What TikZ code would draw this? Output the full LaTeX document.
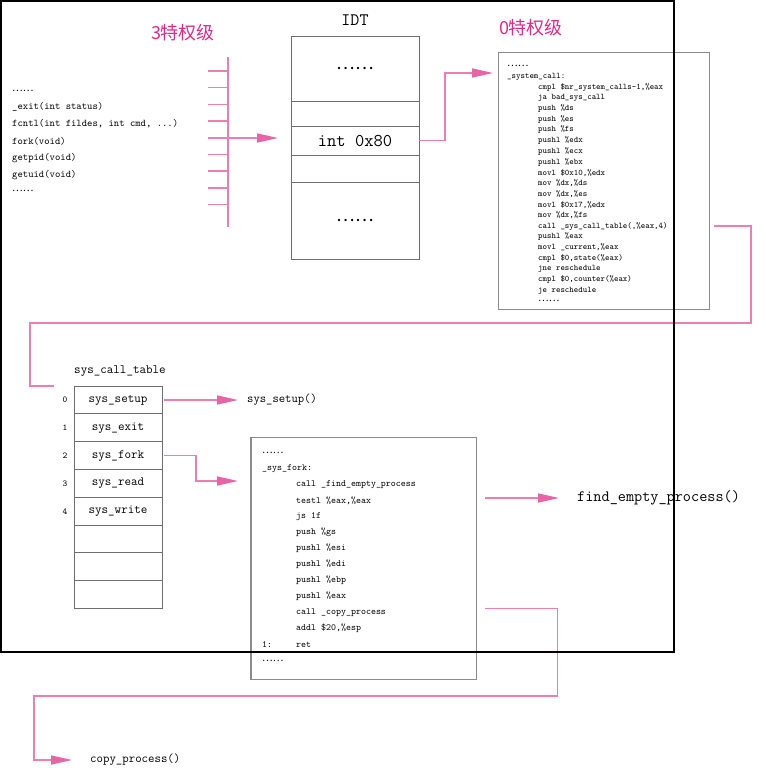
\documentclass[tikz,border=0pt]{standalone}
\usepackage{fontspec}
\usepackage{tikz}
\usetikzlibrary{positioning,arrows.meta}
\newfontfamily\cjkfont{Noto Sans CJK SC}
\definecolor{linepink}{RGB}{240,125,175}
\definecolor{tippink}{RGB}{232,100,165}
\definecolor{levelpink}{RGB}{228,40,135}
\definecolor{boxgray}{RGB}{110,110,110}
\newcommand{\ellip}[1][10]{{\cjkfont\fontsize{#1}{#1}\selectfont ……}}
\newcommand{\ttsize}[1]{\ttfamily\fontsize{#1}{#1}\selectfont}
\tikzset{
pinkline/.style={draw=linepink, line width=1.5pt},
flow/.style={pinkline, -{Triangle[length=21pt,width=9pt,color=tippink]}},
level/.style={text=levelpink, font=\cjkfont\fontsize{18}{18}\selectfont},
idtcell/.style={draw=boxgray, line width=0.9pt, minimum width=128pt, outer sep=0pt, inner sep=0pt, font=\ttsize{18}},
cell/.style={draw=boxgray, line width=0.9pt, minimum width=88pt, minimum height=27.8pt, outer sep=0pt, inner sep=0pt, font=\ttsize{12.7}},
codebox/.style={draw=boxgray!80, line width=1.3pt},
syscode/.style={anchor=west, inner sep=0pt, font=\ttsize{8.5}},
forkcode/.style={anchor=west, inner sep=0pt, font=\ttsize{9.5}},
fname/.style={anchor=west, inner sep=0pt}
}

\begin{document}
\begin{tikzpicture}[x=1pt, y=-1pt]
\useasboundingbox (0,0) rectangle (766,772);

% user mode
\node[level] (ring3) at (183,33) {3特权级};
\foreach \y/\t [count=\i] in {91/{\ellip}, 107/{\_exit(int status)}, 124/{fcntl(int fildes, int cmd, ...)}, 141/{fork(void)}, 158/{getpid(void)}, 175/{getuid(void)}, 191/{\ellip}}
	\node[fname, font=\ttsize{10.2}] (call\i) at (12,\y) {\t};

\coordinate (gate) at (228,138);
\draw[pinkline] (228,57) -- (228,227);
\foreach \k in {0,...,8}
	\draw[pinkline] (208,{71+16.7*\k}) -- (228,{71+16.7*\k});

% IDT
\node[font=\ttsize{17.5}] (idtname) at (355,20) {IDT};
\node[idtcell, minimum height=64.3pt] (idt1) at (355,68.85) {\ellip[17.5]};
\node[idtcell, minimum height=25pt, below=0pt of idt1] (idt2) {};
\node[idtcell, minimum height=29.3pt, below=0pt of idt2] (idt3) {int 0x80};
\node[idtcell, minimum height=27pt, below=0pt of idt3] (idt4) {};
\node[idtcell, minimum height=76.7pt, below=0pt of idt4] (idt5) {\ellip[17.5]};
\draw[flow, shorten >=13pt] (gate) -- (gate -| idt3.west);

% kernel mode
\node[level] (ring0) at (531,28) {0特权级};
\node[codebox, minimum width=211pt, minimum height=256.6pt] (sysbox) at (603.8,181) {};
\foreach \k/\t [count=\i from 0] in {0/{\ellip}, 0/{\_system\_call:}, 1/{cmpl \$nr\_system\_calls-1,\%eax}, 1/{ja bad\_sys\_call}, 1/{push \%ds}, 1/{push \%es}, 1/{push \%fs}, 1/{pushl \%edx}, 1/{pushl \%ecx}, 1/{pushl \%ebx}, 1/{movl \$0x10,\%edx}, 1/{mov \%dx,\%ds}, 1/{mov \%dx,\%es}, 1/{movl \$0x17,\%edx}, 1/{mov \%dx,\%fs}, 1/{call \_sys\_call\_table(,\%eax,4)}, 1/{pushl \%eax}, 1/{movl \_current,\%eax}, 1/{cmpl \$0,state(\%eax)}, 1/{jne reschedule}, 1/{cmpl \$0,counter(\%eax)}, 1/{je reschedule}, 1/{\ellip}}
	\node[syscode] (sc\i) at ({507+31*\k},{65.7+10.7*\i}) {\t};
\coordinate (sysin) at (493,73);
\draw[flow] (idt3.east) -- ++(26,0) |- (sysin);

% sys_call_table
\node[font=\ttsize{12.7}] (tblname) at (120,371) {sys\_call\_table};
\foreach \t [count=\i from 0] in {sys\_setup, sys\_exit, sys\_fork, sys\_read, sys\_write, {}, {}, {}}
	\node[cell] (tbl\i) at (118,{400+27.8*\i}) {\t};
\foreach \i in {0,...,4}
	\node[font=\ttsize{9}] (num\i) at (65,{400+27.8*\i}) {\i};
\draw[pinkline, shorten <=4pt] (sysbox.east |- sc15) -- ++(41,0) |- (30,323) |- ([xshift=-20pt]tbl0.north west);

\node[fname, font=\ttsize{12.3}] (setupfn) at (247,400) {sys\_setup()};
\draw[flow, shorten <=2pt, shorten >=9pt] (tbl0.east) -- (setupfn.west);

% sys_fork
\node[codebox, minimum width=225.7pt, minimum height=242.4pt] (forkbox) at (363.9,558.5) {};
\foreach \k/\t [count=\i from 0] in {0/{\ellip}, 0/{\_sys\_fork:}, 1/{call \_find\_empty\_process}, 1/{testl \%eax,\%eax}, 1/{js 1f}, 1/{push \%gs}, 1/{pushl \%esi}, 1/{pushl \%edi}, 1/{pushl \%ebp}, 1/{pushl \%eax}, 1/{call \_copy\_process}, 1/{addl \$20,\%esp}, 0/{\makebox[34pt][l]{1:}ret}, 0/{\ellip}}
	\node[forkcode] (fk\i) at ({262+34*\k},{452.7+16*\i}) {\t};
\coordinate (forkin) at (238,481);
\draw[flow, shorten <=2pt] (tbl2.east) -- ++(34,0) |- (forkin);

\node[fname, font=\ttsize{15.8}] (findfn) at (577,498) {find\_empty\_process()};
\draw[flow, shorten <=8pt, shorten >=18pt] (findfn.west -| forkbox.east) -- (findfn.west);

\node[fname, font=\ttsize{12.5}] (copyfn) at (90,760) {copy\_process()};
\draw[flow, shorten <=8pt, shorten >=18pt] (forkbox.east |- fk10.north) -- ++(80,0) |- (34,696) |- (copyfn.west);

% frame
\draw[line width=1.5pt] (0.75,0.75) rectangle (674,652);
\end{tikzpicture}
\end{document}
